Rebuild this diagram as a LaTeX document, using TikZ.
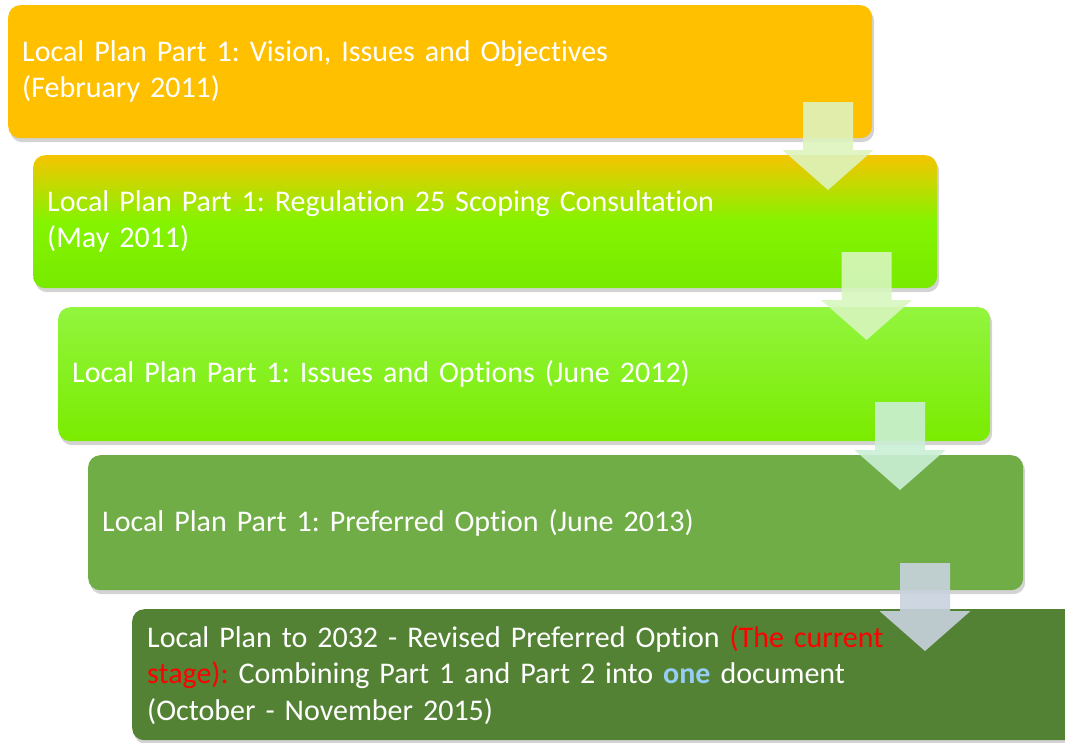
\documentclass[tikz,border=0pt]{standalone}
\usepackage{fontspec}
\setmainfont[Ligatures=NoCommon]{Carlito}
\usetikzlibrary{shadows}
\definecolor{boxA}{RGB}{255,192,0}
\definecolor{boxBtop}{RGB}{245,196,0}
\definecolor{boxBmid}{RGB}{132,244,0}
\definecolor{boxBbot}{RGB}{120,234,0}
\definecolor{boxCtop}{RGB}{146,245,62}
\definecolor{boxCbot}{RGB}{122,236,0}
\definecolor{boxD}{RGB}{112,173,71}
\definecolor{boxE}{RGB}{84,130,53}
\definecolor{arrA}{RGB}{222,243,190}
\definecolor{arrB}{RGB}{215,246,190}
\definecolor{arrC}{RGB}{202,239,214}
\definecolor{arrD}{RGB}{200,210,222}
\definecolor{curred}{RGB}{255,0,0}
\definecolor{oneblue}{RGB}{150,205,245}
\tikzset{
  stagebox/.style={draw=none, rounded corners=12pt, anchor=north west,
    inner xsep=14pt, inner ysep=0pt, align=left, text=white,
    font=\fontsize{30}{36}\selectfont\frenchspacing,
    drop shadow={shadow xshift=2pt, shadow yshift=-4pt, opacity=0.35}},
  pics/darrow/.style={code={
    \fill[#1, opacity=0.9] (-25,0) -- (25,0) -- (25,48) -- (45.5,48) -- (0,88)
      -- (-45.5,48) -- (-25,48) -- cycle;}}
}
\begin{document}
\begin{tikzpicture}[x=1pt, y=-1pt]
\useasboundingbox (0,0) rectangle (1065,742);
\begin{scope}
\clip (0,0) rectangle (1065,742);
\node[stagebox, fill=boxA, minimum width=864pt, minimum height=133pt, text width=836pt]
  (s1) at (8,5) {Local Plan Part 1: Vision, Issues and Objectives\\(February 2011)};
\node[stagebox, minimum width=904pt, minimum height=133pt, text width=876pt,
  top color=boxBtop, bottom color=boxBbot, middle color=boxBmid]
  (s2) at (33,155) {Local Plan Part 1: Regulation 25 Scoping Consultation\\(May 2011)};
\node[stagebox, minimum width=932pt, minimum height=134pt, text width=904pt,
  top color=boxCtop, bottom color=boxCbot]
  (s3) at (58,307) {Local Plan Part 1: Issues and Options (June 2012)};
\node[stagebox, fill=boxD, minimum width=935pt, minimum height=135pt, text width=907pt]
  (s4) at (88,455) {Local Plan Part 1: Preferred Option (June 2013)};
\node[stagebox, fill=boxE, minimum width=960pt, minimum height=131pt, text width=930pt,
  inner xsep=15pt, font=\fontsize{30}{36.5}\selectfont\frenchspacing]
  (s5) at (132,609) {Local Plan to 2032 - Revised Preferred Option \textcolor{curred}{(The current}\\
  \textcolor{curred}{stage):} Combining Part 1 and Part 2 into \textcolor{oneblue}{\bfseries one} document\\
  (October - November 2015)};
\end{scope}
\pic at (828,102) {darrow=arrA};
\pic at (866.5,252) {darrow=arrB};
\pic at (900,402) {darrow=arrC};
\pic at (925,563) {darrow=arrD};
\end{tikzpicture}
\end{document}
